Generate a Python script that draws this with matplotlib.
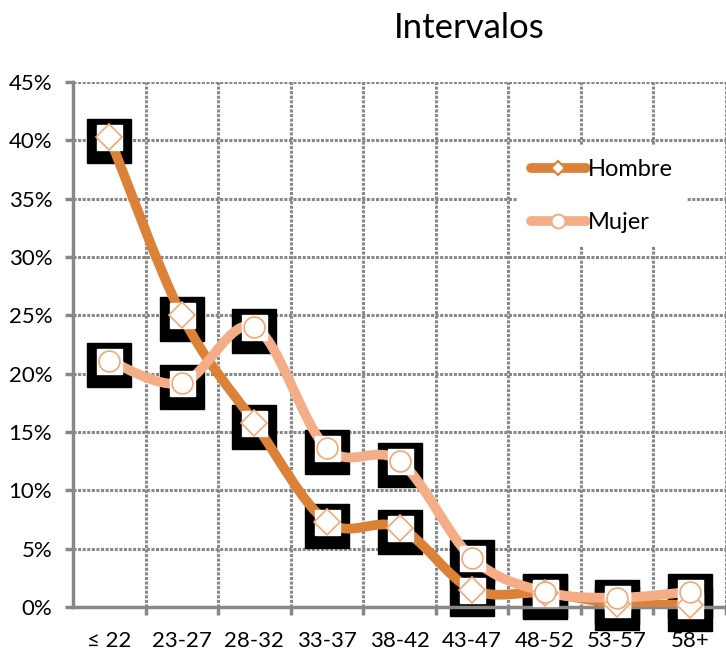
import numpy as np
import matplotlib.pyplot as plt
from matplotlib.path import Path
from matplotlib.patches import PathPatch
from matplotlib.lines import Line2D
from matplotlib.transforms import ScaledTranslation
from matplotlib.ticker import FixedLocator

plt.rcParams['font.family'] = ['Lato', 'DejaVu Sans']

# datos (en %)
categorias = ['≤ 22', '23-27', '28-32', '33-37', '38-42', '43-47', '48-52', '53-57', '58+']
hombre = [40.3, 25.0, 15.8, 7.3, 6.8, 1.5, 1.2, 0.3, 0.2]
mujer = [21.1, 19.2, 24.0, 13.6, 12.5, 4.2, 1.3, 0.8, 1.3]

col_h = '#DC8238'
col_m = '#F4AD87'
col_mk = '#F0A878'
gris = '#888888'


def curva_suave(x, y):
    """spline tipo Excel (Catmull-Rom en Bezier cubicas)"""
    pts = np.column_stack([x, y]).astype(float)
    ext = np.vstack([pts[0], pts, pts[-1]])
    verts = [pts[0]]
    codes = [Path.MOVETO]
    for i in range(len(pts) - 1):
        p0, p1, p2, p3 = ext[i], ext[i + 1], ext[i + 2], ext[i + 3]
        verts += [p1 + (p2 - p0) / 6, p2 - (p3 - p1) / 6, p2]
        codes += [Path.CURVE4] * 3
    return Path(verts, codes)


fig = plt.figure(figsize=(7.26, 6.5), dpi=100)
ax = fig.add_axes([73 / 726, 43 / 650, 653 / 726, 525 / 650])

x = np.arange(len(categorias))
sombra = ax.transData + ScaledTranslation(0, -4 / 100, fig.dpi_scale_trans)

for serie in [hombre, mujer]:
    ax.plot(x, serie, ls='none', marker='s', ms=32, color='black',
            transform=sombra, clip_on=False, zorder=2)

for serie, col in [(hombre, col_h), (mujer, col_m)]:
    ax.add_patch(PathPatch(curva_suave(x, serie), fill=False, edgecolor=col,
                           lw=7, capstyle='round', joinstyle='round', zorder=3))

for serie, mk, ms in [(hombre, 'D', 13), (mujer, 'o', 15)]:
    ax.plot(x, serie, ls='none', marker='s', ms=18, color='white',
            clip_on=False, zorder=4)
    ax.plot(x, serie, ls='none', marker=mk, ms=ms, mfc='white', mec=col_mk,
            mew=1.2, clip_on=False, zorder=5)

ax.set_xlim(-0.5, 8.5)
ax.set_ylim(0, 45)
ax.set_yticks(np.arange(0, 46, 5))
ax.set_yticklabels([f'{v}%' for v in range(0, 46, 5)])
ax.set_xticks(x)
ax.set_xticklabels(categorias)
ax.xaxis.set_minor_locator(FixedLocator(np.arange(0.5, 8.6, 1)))
ax.tick_params(axis='x', which='major', length=0, pad=17, labelsize=16)
ax.tick_params(axis='x', which='minor', length=6, width=2.5, color=gris)
ax.tick_params(axis='y', length=6, width=2.5, color=gris, labelsize=16, pad=9)

ax.grid(True, axis='y', which='major', color=gris, ls=(0, (1, 0.5)), lw=2.2)
ax.grid(True, axis='x', which='minor', color=gris, ls=(0, (1, 0.5)), lw=2.2)
ax.set_axisbelow(True)
for s in ['top', 'right']:
    ax.spines[s].set_visible(False)
for s in ['left', 'bottom']:
    ax.spines[s].set_color(gris)
    ax.spines[s].set_linewidth(2.5)

fig.text(469 / 726, 1 - 28 / 650, 'Intervalos', ha='center', va='center', fontsize=25)

handles = [
    Line2D([], [], color=col_h, lw=7, solid_capstyle='round', marker='D', ms=7,
           mfc='white', mec=col_h, mew=1.5),
    Line2D([], [], color=col_m, lw=7, solid_capstyle='round', marker='o', ms=10,
           mfc='white', mec=col_m, mew=1.5),
]
leg = ax.legend(handles, ['Hombre', 'Mujer'], loc='upper left',
                bbox_to_anchor=(0.662, 0.902), frameon=True, framealpha=1,
                edgecolor='none', fontsize=17, handlelength=2.3,
                handletextpad=0.1, labelspacing=1.35, borderpad=0.6)
leg.set_zorder(6)

fig.savefig('out.png', dpi=100)
